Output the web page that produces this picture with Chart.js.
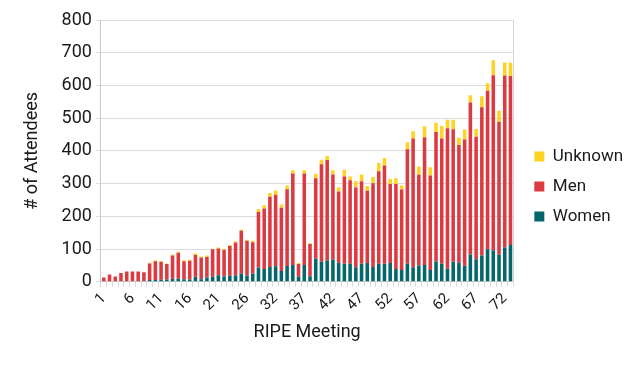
<!DOCTYPE html>
<html>
<head>
<meta charset="utf-8">
<script src="https://cdn.jsdelivr.net/npm/chart.js@4"></script>
<style>
  html, body { margin: 0; padding: 0; background: #fff; }
  #wrap { position: relative; width: 640px; height: 372px; }
</style>
</head>
<body>
<div id="wrap"><canvas id="chart"></canvas></div>
<script>
// RIPE meeting numbers (one meeting between 27 and 31 has no data)
const meetings = [
  1, 2, 3, 4, 5, 6, 7, 8, 9, 10, 11, 12, 13, 14, 15, 16, 17, 18, 19, 20,
  21, 22, 23, 24, 25, 26, 27, 28, 30, 31, 32, 33, 34, 35, 36, 37, 38, 39, 40,
  41, 42, 43, 44, 45, 46, 47, 48, 49, 50, 51, 52, 53, 54, 55, 56, 57, 58, 59,
  60, 61, 62, 63, 64, 65, 66, 67, 68, 69, 70, 71, 72, 73
];

const women = [
  0, 0, 0, 0, 0, 0, 0, 0, 5, 5, 6, 6, 9, 9, 8, 6, 15, 8, 13, 15,
  20, 16, 18, 19, 25, 18, 25, 43, 39, 45, 47, 33, 48, 51, 15, 51, 17, 71, 61,
  65, 68, 58, 55, 55, 44, 55, 57, 45, 55, 55, 57, 39, 36, 55, 44, 50, 51, 36,
  62, 55, 40, 61, 58, 49, 83, 69, 80, 99, 96, 83, 105, 112
];

const men = [
  13, 22, 16, 27, 31, 31, 31, 29, 51, 58, 55, 48, 71, 80, 55, 58, 67, 66, 63, 84,
  82, 81, 91, 101, 131, 107, 96, 170, 185, 215, 219, 193, 235, 280, 39, 280, 98, 245, 298,
  307, 260, 218, 267, 255, 244, 252, 221, 256, 283, 300, 242, 260, 246, 350, 394, 277, 391, 289,
  396, 383, 429, 405, 360, 386, 465, 374, 453, 485, 535, 406, 525, 517
];

const unknown = [
  0, 0, 0, 0, 0, 0, 0, 0, 2, 3, 2, 2, 3, 3, 3, 3, 4, 3, 4, 2,
  3, 3, 3, 4, 4, 3, 4, 9, 10, 11, 13, 10, 11, 10, 3, 10, 3, 14, 14,
  12, 13, 13, 20, 12, 20, 21, 15, 19, 25, 23, 15, 17, 12, 21, 22, 25, 33, 25,
  28, 38, 26, 29, 22, 30, 22, 24, 34, 23, 46, 34, 40, 40
];

const yTicks = [0, 100, 200, 300, 400, 500, 600, 700, 800];

const FONT = "Roboto";
const TEXT = "#1a1a1a";

const ctx = document.getElementById("chart").getContext("2d");

new Chart(ctx, {
  type: "bar",
  data: {
    labels: meetings.map(String),
    datasets: [
      { label: "Women", data: women, backgroundColor: "#04666b" },
      { label: "Men", data: men, backgroundColor: "#dc3a41" },
      { label: "Unknown", data: unknown, backgroundColor: "#fed324" },
    ],
  },
  options: {
    responsive: true,
    maintainAspectRatio: false,
    animation: false,
    datasets: {
      bar: { barPercentage: 0.62, categoryPercentage: 1.0 },
    },
    layout: { padding: { top: 20, right: 18, bottom: 25, left: 18 } },
    plugins: {
      tooltip: { enabled: false },
      legend: {
        position: "right",
        reverse: true,
        // empty title only nudges the legend items down a little
        title: { display: true, text: "", font: { size: 1 }, padding: { top: 5, bottom: 0 } },
        labels: {
          boxWidth: 10,
          boxHeight: 10,
          padding: 13,
          color: TEXT,
          font: { family: FONT, size: 17 },
        },
      },
    },
    scales: {
      x: {
        stacked: true,
        grid: {
          drawOnChartArea: false,
          tickLength: 5,
          color: "#d9d9d9",
        },
        border: { color: "#c8c8c8" },
        ticks: {
          autoSkip: false,
          minRotation: 45,
          maxRotation: 45,
          padding: 3,
          color: TEXT,
          font: { family: FONT, size: 15 },
          callback: (value, i) => (i % 5 === 0 ? meetings[i] : ""),
        },
        title: {
          display: true,
          text: "RIPE Meeting",
          color: TEXT,
          font: { family: FONT, size: 18 },
          padding: { top: 4 },
        },
      },
      y: {
        stacked: true,
        min: 0,
        max: 800,
        afterBuildTicks: (axis) => {
          axis.ticks = yTicks.map((v) => ({ value: v }));
        },
        grid: { color: "#dcdcdc", tickLength: 5 },
        border: { color: "#c8c8c8" },
        ticks: {
          color: TEXT,
          padding: 4,
          font: { family: FONT, size: 18 },
        },
        title: {
          display: true,
          text: "# of Attendees",
          color: TEXT,
          font: { family: FONT, size: 18 },
          padding: { bottom: 14 },
        },
      },
      y2: {
        position: "right",
        min: 0,
        max: 800,
        grid: { drawOnChartArea: false, drawTicks: false },
        border: { color: "#d4d4d4" },
        ticks: { display: false },
        afterFit: (axis) => {
          axis.width = 8;
        },
      },
    },
  },
});
</script>
</body>
</html>
